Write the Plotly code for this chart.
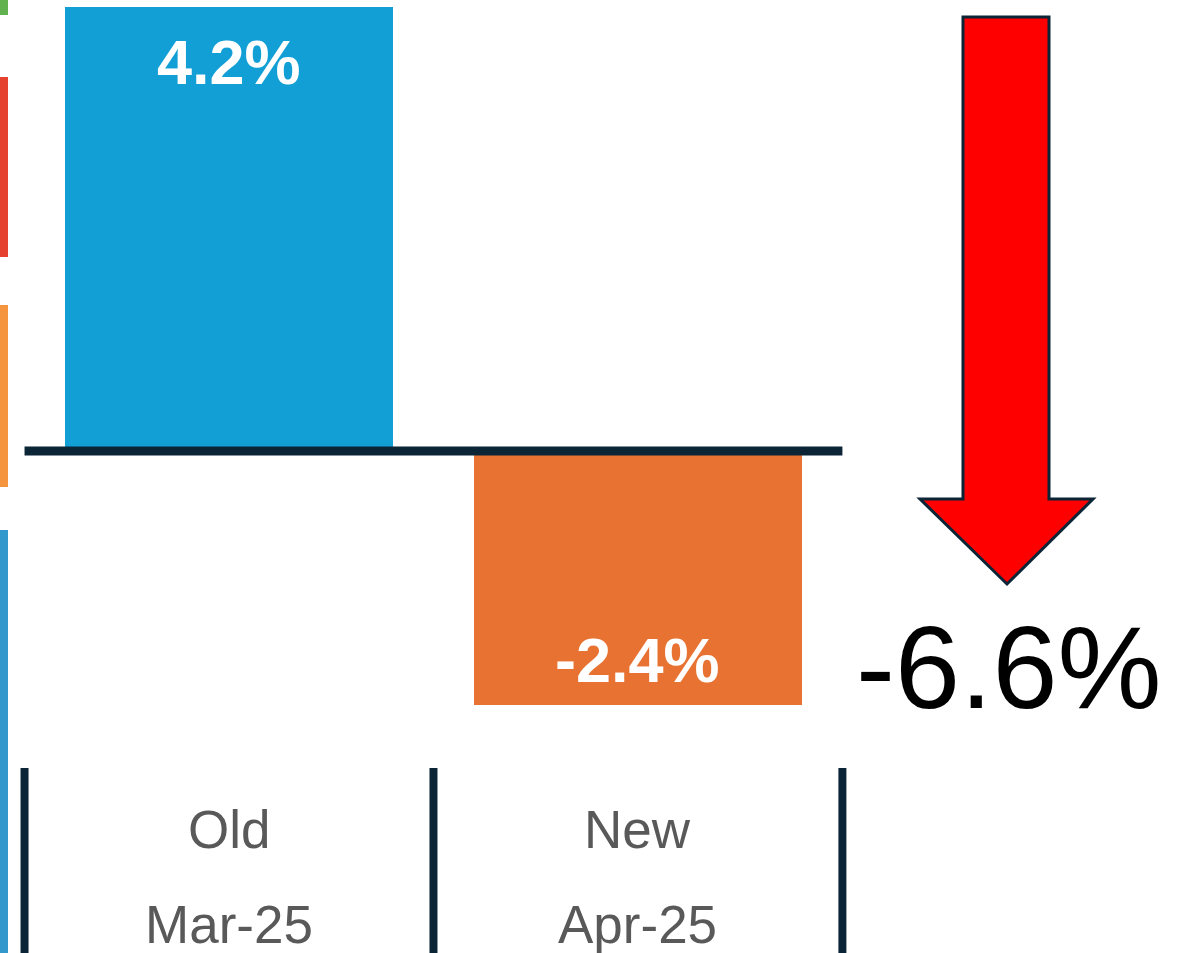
import plotly.graph_objects as go

categories = ["Old", "New"]
periods = ["Mar-25", "Apr-25"]
values = [4.2, -2.4]
bar_colors = ["#119fd6", "#e87232"]

W, H = 1190, 953
change = round(values[1] - values[0], 1)

fig = go.Figure()
fig.add_trace(go.Bar(
    x=categories, y=values, width=0.802,
    marker=dict(color=bar_colors, line=dict(width=0)),
    hoverinfo="skip", showlegend=False,
))

FONT = "Liberation Sans, Arial, sans-serif"
NAVY = "#0b2536"

annotations = []
# value labels inside bars
for c, v in zip(categories, values):
    annotations.append(dict(
        x=c, y=v, xref="x", yref="y", text=f"<b>{v:.1f}%</b>", showarrow=False,
        font=dict(family=FONT, size=63, color="white"),
        xanchor="center", yanchor="middle", yshift=(-55 if v > 0 else 45),
    ))
# category labels
for c, p in zip(categories, periods):
    annotations.append(dict(x=c, y=1 - 829 / H, xref="x", yref="paper", text=c, showarrow=False,
                            font=dict(family=FONT, size=53, color="#595959"),
                            xanchor="center", yanchor="middle"))
    annotations.append(dict(x=c, y=1 - 924 / H, xref="x", yref="paper", text=p, showarrow=False,
                            font=dict(family=FONT, size=53, color="#595959"),
                            xanchor="center", yanchor="middle"))
# change label
annotations.append(dict(x=1009 / W, y=1 - 667 / H, xref="paper", yref="paper",
                        text=f"{change:.1f}%", showarrow=False,
                        font=dict(family=FONT, size=117, color="black"),
                        xanchor="center", yanchor="middle"))

shapes = []
# zero line
shapes.append(dict(type="line", xref="x", yref="y", x0=-0.5, x1=1.5, y0=0, y1=0,
                   line=dict(color=NAVY, width=9)))
# separators
for xs in [-0.5, 0.5, 1.5]:
    shapes.append(dict(type="line", xref="x", yref="paper", x0=xs, x1=xs, y0=0, y1=1 - 768 / H,
                       line=dict(color=NAVY, width=8)))
# left color strips
for (ya, yb, col) in [(0, 15, "#62b34f"), (77, 257, "#e5432f"), (305, 487, "#f6953f"), (530, 953, "#3399cc")]:
    shapes.append(dict(type="rect", xref="paper", yref="paper", x0=0, x1=8 / W,
                       y0=1 - yb / H, y1=1 - ya / H, fillcolor=col, line=dict(width=0), layer="above"))
# arrow
pts = [(963, 17), (1049, 17), (1049, 499), (1093, 499), (1007, 584), (920, 499), (963, 499)]
path = "M " + " L ".join(f"{x / W:.5f},{1 - y / H:.5f}" for x, y in pts) + " Z"
shapes.append(dict(type="path", xref="paper", yref="paper", path=path,
                   fillcolor="#ff0000", line=dict(color=NAVY, width=3)))

fig.update_layout(
    width=W, height=H,
    margin=dict(l=0, r=0, t=0, b=0),
    paper_bgcolor="white", plot_bgcolor="white",
    xaxis=dict(type="category", range=[-0.56, 2.35], visible=False, fixedrange=True),
    yaxis=dict(range=[-4.749, 4.266], visible=False, fixedrange=True, zeroline=False),
    annotations=annotations, shapes=shapes,
    bargap=0,
)

fig.write_html("out.html", config={"displayModeBar": False},
               post_script="document.body.style.margin='0';document.body.style.overflow='hidden';")
